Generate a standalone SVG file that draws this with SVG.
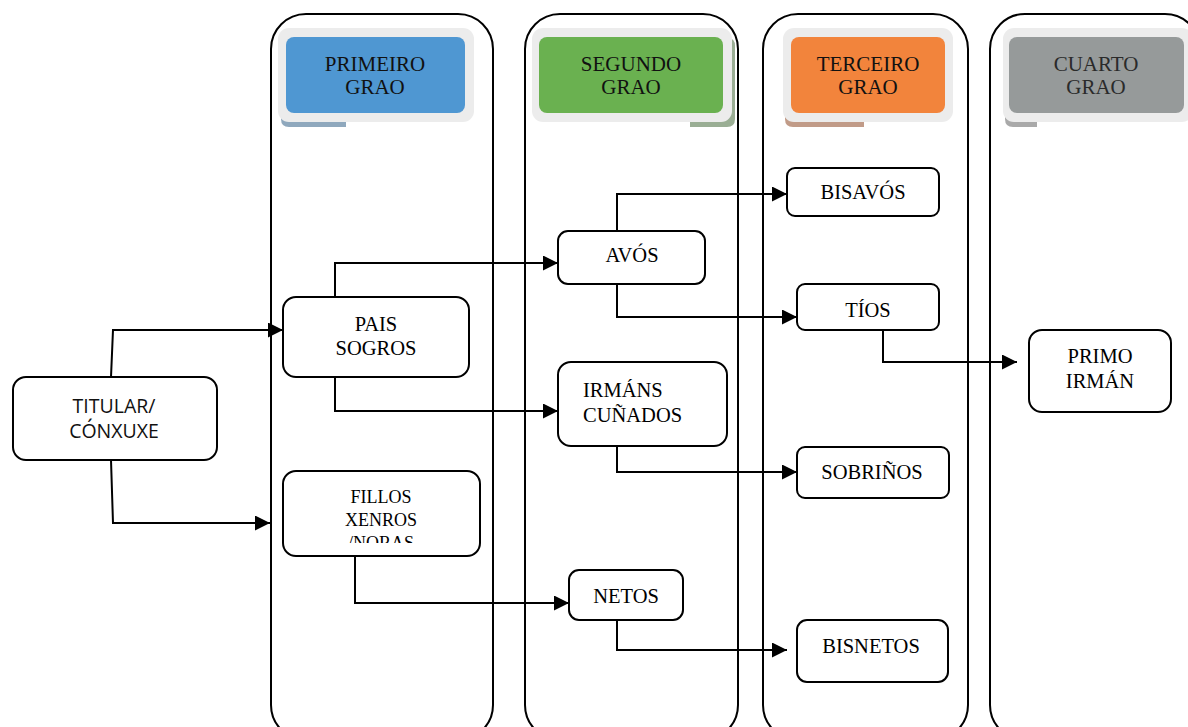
<svg xmlns="http://www.w3.org/2000/svg" width="1188" height="727" viewBox="0 0 1188 727">
<style>
.col{fill:#fff;stroke:#000;stroke-width:2}
.hdr-o{fill:#ececec}
.node{fill:#fff;stroke:#000;stroke-width:2}
.t{font-family:"Liberation Serif","Times New Roman",serif;font-size:20.5px;fill:#000;text-anchor:middle}
.th{font-family:"Liberation Serif","Times New Roman",serif;font-size:21px;fill:#111;text-anchor:middle}
.ts{font-family:"Open Sans","Noto Sans",sans-serif;font-size:19.5px;fill:#111;text-anchor:middle}
.c{fill:none;stroke:#000;stroke-width:2}
.ca{fill:none;stroke:#000;stroke-width:2;marker-end:url(#arr)}
</style>
<defs>
<marker id="arr" markerUnits="userSpaceOnUse" markerWidth="15" markerHeight="15" refX="15" refY="7.5" orient="auto">
<path d="M0,0 L15,7.5 L0,15 Z" fill="#000"/>
</marker>
<clipPath id="fclip"><rect x="283" y="471" width="197" height="72"/></clipPath>
</defs>
<rect width="1188" height="727" fill="#fff"/>
<g id="columns">
<rect class="col" x="271" y="14" width="222" height="726" rx="35"/>
<rect class="col" x="525" y="14" width="213" height="726" rx="35"/>
<rect class="col" x="763" y="14" width="205" height="726" rx="35"/>
<rect class="col" x="990" y="14" width="210" height="726" rx="35"/>
</g>
<g id="hdr1">
<path d="M281,110 H346 V127 H289 Q281,127 281,119 Z" fill="#8fa8bd"/>
<rect class="hdr-o" x="278" y="28" width="196" height="94" rx="11"/>
<rect x="286" y="37" width="179" height="76" rx="8" fill="#4f97d2"/>
<text class="th" x="375" y="71">PRIMEIRO</text>
<text class="th" x="375" y="94">GRAO</text>
</g>
<g id="hdr2">
<path d="M690,110 H728 V38 Q735,38 735,46 V119 Q735,127 727,127 H690 Z" fill="#9aae94"/>
<rect class="hdr-o" x="532" y="28" width="200" height="94" rx="11"/>
<rect x="539" y="37" width="184" height="76" rx="8" fill="#6ab150"/>
<text class="th" x="631" y="71">SEGUNDO</text>
<text class="th" x="631" y="94">GRAO</text>
</g>
<g id="hdr3">
<path d="M785,110 H864 V127 H793 Q785,127 785,119 Z" fill="#c19b88"/>
<rect class="hdr-o" x="783" y="28" width="170" height="94" rx="11"/>
<rect x="791" y="37" width="154" height="76" rx="8" fill="#f2843c"/>
<text class="th" x="868" y="71">TERCEIRO</text>
<text class="th" x="868" y="94">GRAO</text>
</g>
<g id="hdr4">
<path d="M1005,110 H1037 V127 H1013 Q1005,127 1005,119 Z" fill="#a9a9a9"/>
<rect class="hdr-o" x="1003" y="28" width="190" height="94" rx="11"/>
<rect x="1009" y="37" width="175" height="76" rx="8" fill="#969a9a"/>
<text class="th" x="1096" y="71" style="fill:#2a2a2a">CUARTO</text>
<text class="th" x="1096" y="94" style="fill:#2a2a2a">GRAO</text>
</g>
<g id="connectors">
<path class="ca" d="M111,377 L113,330 H283"/>
<path class="ca" d="M111,460 L113,523 H270"/>
<path class="ca" d="M335,297 V263 H558"/>
<path class="ca" d="M335,377 V411 H558"/>
<path class="ca" d="M355,556 V603 H569"/>
<path class="ca" d="M617,231 V194 H787"/>
<path class="ca" d="M617,284 V317 H797"/>
<path class="ca" d="M883,330 V362 H1017"/>
<path class="ca" d="M617,447 V472 H797"/>
<path class="ca" d="M617,620 V650 H787"/>
</g>
<g id="titular">
<rect class="node" x="13" y="377" width="204" height="83" rx="13"/>
<text class="ts" x="114" y="413">TITULAR/</text>
<text class="ts" x="114" y="438">CÓNXUXE</text>
</g>
<g id="pais">
<rect class="node" x="283" y="297" width="186" height="80" rx="13"/>
<text class="t" x="376" y="331">PAIS</text>
<text class="t" x="376" y="355">SOGROS</text>
</g>
<g id="fillos">
<rect class="node" x="283" y="471" width="197" height="85" rx="13"/>
<g clip-path="url(#fclip)">
<text class="t" x="381" y="503" style="font-size:18px">FILLOS</text>
<text class="t" x="381" y="526" style="font-size:18px">XENROS</text>
<text class="t" x="381" y="549" style="font-size:18px">/NORAS</text>
</g>
</g>
<g id="avos">
<rect class="node" x="558" y="231" width="147" height="53" rx="10"/>
<text class="t" x="632" y="262">AVÓS</text>
</g>
<g id="irmans">
<rect class="node" x="558" y="362" width="169" height="84" rx="13"/>
<text class="t" x="583" y="397" style="text-anchor:start">IRMÁNS</text>
<text class="t" x="583" y="422" style="text-anchor:start">CUÑADOS</text>
</g>
<g id="netos">
<rect class="node" x="569" y="570" width="114" height="50" rx="10"/>
<text class="t" x="626" y="603">NETOS</text>
</g>
<g id="bisavos">
<rect class="node" x="787" y="168" width="152" height="48" rx="8"/>
<text class="t" x="863" y="199">BISAVÓS</text>
</g>
<g id="tios">
<rect class="node" x="797" y="284" width="142" height="46" rx="8"/>
<text class="t" x="868" y="317">TÍOS</text>
</g>
<g id="sobrinos">
<rect class="node" x="797" y="447" width="152" height="51" rx="8"/>
<text class="t" x="872" y="479">SOBRIÑOS</text>
</g>
<g id="bisnetos">
<rect class="node" x="797" y="620" width="151" height="62" rx="10"/>
<text class="t" x="871" y="653">BISNETOS</text>
</g>
<g id="primo">
<rect class="node" x="1029" y="330" width="142" height="82" rx="13"/>
<text class="t" x="1100" y="363">PRIMO</text>
<text class="t" x="1100" y="388">IRMÁN</text>
</g>
</svg>
